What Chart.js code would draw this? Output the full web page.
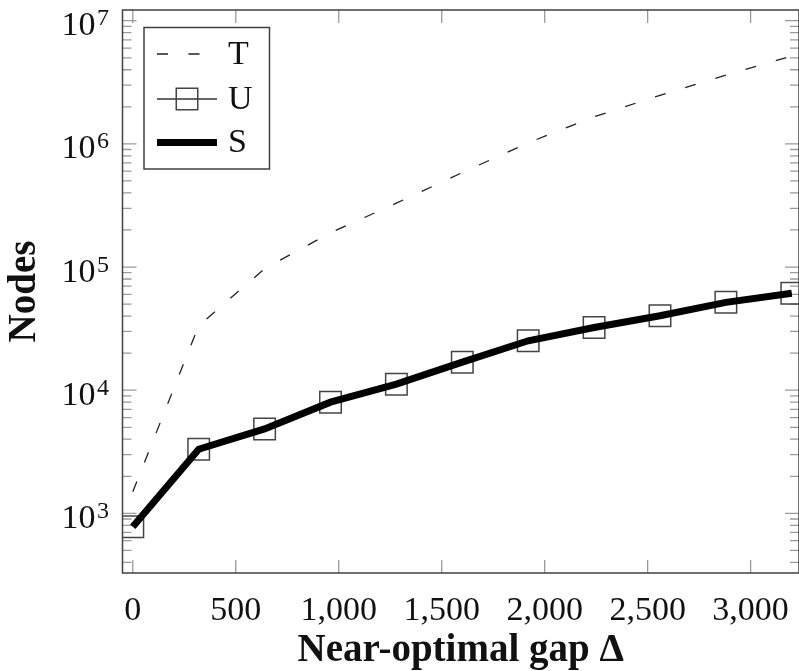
<!DOCTYPE html>
<html>
<head>
<meta charset="utf-8">
<script src="https://cdn.jsdelivr.net/npm/chart.js@4"></script>
<style>
  html, body { margin: 0; padding: 0; background: #fff; overflow: hidden; }
</style>
</head>
<body>
<canvas id="nodesChart" width="799" height="671"></canvas>
<script>
// near-optimal gap values (x) and node counts per method
const gapValues = [0, 320, 640, 960, 1280, 1600, 1920, 2240, 2560, 2880, 3200];
const nodesT = [1500, 33400, 97000, 190000, 330000, 585000, 1020000, 1660000, 2480000, 3610000, 5170000];
const nodesU = [780, 3320, 4850, 8000, 11200, 16900, 25200, 32300, 40200, 51700, 61200];
const nodesS = [780, 3320, 4850, 8000, 11200, 16900, 25200, 32300, 40200, 51700, 61200];
const seriesLabels = ['T', 'U', 'S'];

const xTickValues = [0, 500, 1000, 1500, 2000, 2500, 3000];
const yDecades = [1e3, 1e4, 1e5, 1e6, 1e7];

const FONT = '"Liberation Serif", "Times New Roman", serif';
const TEXT_COLOR = '#111';

const toPoints = ys => gapValues.map((g, i) => ({x: g, y: ys[i]}));

// box around plot, inward tick marks and 10^n labels (pgfplots look)
const framePlugin = {
    id: 'pgfFrame',
    beforeDatasetsDraw(chart) {
        const {ctx, chartArea: a, scales: {x, y}} = chart;
        ctx.save();
        ctx.strokeStyle = '#9a9a9a';
        ctx.lineWidth = 1.3;
        ctx.beginPath();
        xTickValues.forEach(v => {
            const px = x.getPixelForValue(v);
            ctx.moveTo(px, a.bottom);
            ctx.lineTo(px, a.bottom - 13);
            ctx.moveTo(px, a.top);
            ctx.lineTo(px, a.top + 13);
        });
        for (let e = 2; e <= 7; e++) {
            for (let m = 1; m <= 9; m++) {
                const v = m * Math.pow(10, e);
                if (v < y.min || v > y.max) continue;
                const py = y.getPixelForValue(v);
                const len = m === 1 ? 14 : 9;
                ctx.moveTo(a.left, py);
                ctx.lineTo(a.left + len, py);
                ctx.moveTo(a.right, py);
                ctx.lineTo(a.right - len, py);
            }
        }
        ctx.stroke();
        ctx.strokeStyle = '#404040';
        ctx.lineWidth = 1.5;
        ctx.strokeRect(a.left, a.top, a.right - a.left, a.bottom - a.top);
        ctx.restore();
    },
    afterDraw(chart) {
        const {ctx, scales: {y}} = chart;
        ctx.save();
        ctx.fillStyle = TEXT_COLOR;
        ctx.textBaseline = 'alphabetic';
        ctx.textAlign = 'right';
        yDecades.forEach(v => {
            const py = y.getPixelForValue(v);
            const exp = String(Math.round(Math.log10(v)));
            ctx.font = '24px ' + FONT;
            ctx.fillText(exp, 109, py + 4.5);
            const w = ctx.measureText(exp).width;
            ctx.font = '34px ' + FONT;
            ctx.fillText('10', 109 - w - 1.5, py + 14.5);
        });
        ctx.restore();
    }
};

// legend box in the top-left corner of the plot
const boxLegend = {
    id: 'boxLegend',
    afterDraw(chart) {
        const {ctx} = chart;
        const box = {left: 144, top: 27.5, right: 269.5, bottom: 169};
        const rowY = [54, 99, 142.5];
        const x0 = 157, x1 = 217;
        ctx.save();
        ctx.fillStyle = '#fff';
        ctx.fillRect(box.left, box.top, box.right - box.left, box.bottom - box.top);
        ctx.strokeStyle = '#404040';
        ctx.lineWidth = 1.5;
        ctx.strokeRect(box.left, box.top, box.right - box.left, box.bottom - box.top);

        chart.data.datasets.forEach((ds, i) => {
            const yy = rowY[i];
            ctx.save();
            ctx.strokeStyle = ds.borderColor;
            ctx.lineWidth = ds.borderWidth;
            ctx.setLineDash(ds.borderDash || []);
            ctx.beginPath();
            ctx.moveTo(x0, yy);
            ctx.lineTo(x1, yy);
            ctx.stroke();
            ctx.restore();
            if (ds.pointRadius > 0) {
                ctx.save();
                ctx.strokeStyle = ds.pointBorderColor;
                ctx.fillStyle = ds.pointBackgroundColor;
                ctx.lineWidth = ds.pointBorderWidth;
                Chart.helpers.drawPoint(ctx, {
                    pointStyle: ds.pointStyle,
                    rotation: 0,
                    borderWidth: ds.pointBorderWidth,
                    radius: ds.pointRadius
                }, (x0 + x1) / 2, yy);
                ctx.restore();
            }
            ctx.fillStyle = TEXT_COLOR;
            ctx.font = '34px ' + FONT;
            ctx.textAlign = 'left';
            ctx.textBaseline = 'middle';
            ctx.fillText(ds.label, 228, yy + 1);
        });
        ctx.restore();
    }
};

const chart = new Chart(document.getElementById('nodesChart').getContext('2d'), {
    type: 'line',
    data: {
        datasets: [
            {
                label: seriesLabels[0],
                data: toPoints(nodesT),
                borderColor: '#222',
                borderWidth: 1.3,
                borderDash: [11, 20.5],
                pointRadius: 0,
                tension: 0,
                order: 2
            },
            {
                label: seriesLabels[1],
                data: toPoints(nodesU),
                borderColor: '#333',
                borderWidth: 1.3,
                pointStyle: 'rect',
                pointRadius: 15.2,
                pointBorderWidth: 1.5,
                pointBorderColor: '#444',
                pointBackgroundColor: 'rgba(0,0,0,0)',
                tension: 0,
                order: 1
            },
            {
                label: seriesLabels[2],
                data: toPoints(nodesS),
                borderColor: '#000',
                borderWidth: 7,
                borderJoinStyle: 'miter',
                pointRadius: 0,
                tension: 0,
                order: 0
            }
        ]
    },
    options: {
        responsive: false,
        devicePixelRatio: 1,
        animation: false,
        layout: {autoPadding: false, padding: {top: 10, right: -1, left: 0, bottom: 0}},
        plugins: {
            legend: {display: false},
            tooltip: {enabled: false}
        },
        scales: {
            x: {
                type: 'linear',
                min: -50,
                max: 3235,
                grid: {display: false, drawTicks: false, tickLength: 0},
                border: {display: false},
                afterBuildTicks: s => { s.ticks = xTickValues.map(v => ({value: v})); },
                afterFit: s => {
                    s.height = 98;
                    s.paddingLeft = 0;
                    s.paddingRight = 0;
                },
                ticks: {
                    font: {family: FONT, size: 34},
                    color: TEXT_COLOR,
                    padding: 18,
                    maxRotation: 0,
                    autoSkip: false,
                    callback: v => v.toLocaleString('en-US')
                },
                title: {
                    display: true,
                    text: 'Near-optimal gap Δ',
                    font: {family: FONT, size: 39, weight: 'bold', lineHeight: 1},
                    color: TEXT_COLOR,
                    padding: {top: 0, bottom: 1}
                }
            },
            y: {
                type: 'logarithmic',
                min: 328,
                max: 1.222e7,
                grid: {display: false, drawTicks: false, tickLength: 0},
                border: {display: false},
                ticks: {display: false},
                afterFit: s => {
                    s.width = 122.5;
                    s.paddingTop = 0;
                    s.paddingBottom = 0;
                },
                title: {
                    display: true,
                    text: 'Nodes',
                    font: {family: FONT, size: 39, weight: 'bold', lineHeight: 1},
                    color: TEXT_COLOR,
                    padding: {top: 5, bottom: 0}
                }
            }
        }
    },
    plugins: [framePlugin, boxLegend]
});
</script>
</body>
</html>
